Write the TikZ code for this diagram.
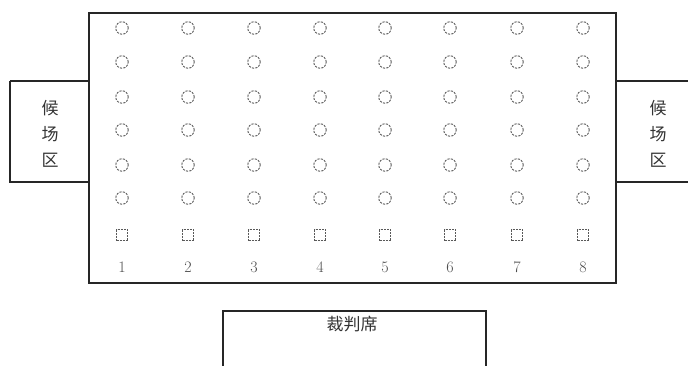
\documentclass[tikz,border=0pt]{standalone}
\usepackage{fontspec}
\newfontfamily\cjk{Noto Sans CJK SC}
\begin{document}
\begin{tikzpicture}[x=1pt,y=-1pt,
  box/.style={draw=black!85,line width=1.2pt},
  seat/.style={circle,draw=black!65,dash pattern=on 2.2pt off 1.2pt,line width=0.9pt,minimum size=12.5pt,inner sep=0pt},
  judge/.style={rectangle,draw=black!65,dash pattern=on 2pt off 1pt,line width=0.9pt,minimum size=11pt,inner sep=0pt},
  num/.style={font=\fontsize{16}{16}\selectfont,text=black!70,anchor=base},
  zh/.style={font=\cjk\fontsize{17}{18}\selectfont,text=black!80}]
\useasboundingbox (0,0) rectangle (688,365);
\draw[box] (89,13) rectangle (616,283);
\draw[box] (10,81) -- (89,81) (10,81) -- (10,182) -- (89,182);
\draw[box] (616,81) -- (690,81) (616,182) -- (690,182);
\draw[box] (223,366) -- (223,311) -- (486,311) -- (486,366);
\node[zh] (l1) at (50,108) {候};
\node[zh] (l2) at (50,134) {场};
\node[zh] (l3) at (50,160) {区};
\node[zh] (r1) at (658,108) {候};
\node[zh] (r2) at (658,134) {场};
\node[zh] (r3) at (658,160) {区};
\node[zh] (ref) at (352,324) {裁判席};
\foreach \c [count=\i] in {122,188,254,320,385,450,517,583}{
  \foreach \r [count=\j] in {28,62,97,130,165,198}{
    \node[seat] (s\i-\j) at (\c,\r) {};
  }
  \node[judge] (j\i) at (\c,235) {};
  \node[num] (n\i) at (\c,272) {\i};
}
\end{tikzpicture}
\end{document}
